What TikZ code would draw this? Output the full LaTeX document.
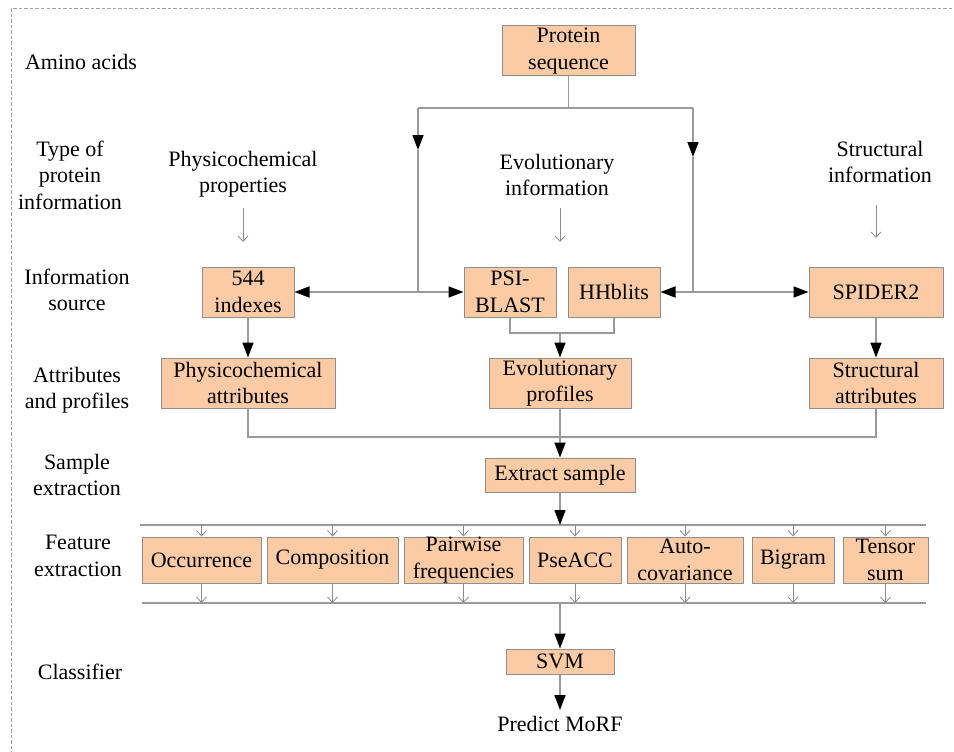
\documentclass[tikz,border=0pt]{standalone}
\usepackage{fontspec}
\setmainfont{Liberation Serif}
\usetikzlibrary{arrows.meta}
\definecolor{peach}{HTML}{FBCBA5}
\definecolor{boxedge}{HTML}{8E8E8E}
\definecolor{wire}{HTML}{9A9A9A}
\definecolor{hint}{HTML}{8C8C8C}
\definecolor{frame}{HTML}{A0A0A0}
\begin{document}
\begin{tikzpicture}[x=1pt,y=-1pt,
  every node/.style={font=\fontsize{22}{26.5}\selectfont, align=center},
  stage/.style={draw=boxedge, line width=1pt, fill=peach, inner sep=0pt},
  label/.style={inner sep=0pt},
  wireline/.style={draw=wire, line width=1.5pt},
  flow/.style={wireline, -{Triangle[length=15pt,width=11pt,black]}},
  hintarrow/.style={draw=hint, line width=0.8pt, -{Straight Barb[length=5.5pt,width=10pt]}}
]
\useasboundingbox (0,0) rectangle (954,752);

% outer dashed frame
\draw[frame, line width=1pt, dash pattern=on 3.5pt off 2pt] (11,760) -- (11,9) -- (960,9);

% row labels
\node[label] (lAmino) at (81,62) {Amino acids};
\node[label] (lType) at (70,175) {Type of\\protein\\information};
\node[label] (lSource) at (77,290) {Information\\source};
\node[label] (lAttr) at (77,390) {Attributes\\and profiles};
\node[label] (lSample) at (77,475) {Sample\\extraction};
\node[label] (lFeat) at (78,556) {Feature\\extraction};
\node[label] (lClass) at (80,672) {Classifier};

% kinds of protein information
\node[label] (tPhys) at (243,174) {Physicochemical\\properties};
\node[label] (tEvo) at (557,175) {Evolutionary\\information};
\node[label] (tStr) at (880,162) {Structural\\information};
\coordinate (aPhysA) at (243,208); \coordinate (aPhysB) at (243,242);
\coordinate (aEvoA) at (560,208); \coordinate (aEvoB) at (560,242);
\coordinate (aStrA) at (876,205); \coordinate (aStrB) at (876,238);
\draw[hintarrow] (aPhysA) -- (aPhysB);
\draw[hintarrow] (aEvoA) -- (aEvoB);
\draw[hintarrow] (aStrA) -- (aStrB);

% stages
\node[stage, minimum width=133pt, minimum height=50pt] (seq) at (568.5,51) {Protein\\sequence};
\node[stage, minimum width=92pt, minimum height=50pt] (idx) at (248,292) {544\\indexes};
\node[stage, minimum width=92pt, minimum height=50pt] (psi) at (510,292) {PSI-\\BLAST};
\node[stage, minimum width=92pt, minimum height=50pt] (hhb) at (614,292) {HHblits};
\node[stage, minimum width=134pt, minimum height=50pt] (spi) at (876,292) {SPIDER2};
\node[stage, minimum width=174pt, minimum height=50pt] (pca) at (248,383) {Physicochemical\\attributes};
\node[stage, minimum width=142pt, minimum height=50pt] (evp) at (560,383) {Evolutionary\\profiles};
\node[stage, minimum width=134pt, minimum height=50pt] (sta) at (876,383) {Structural\\attributes};
\node[stage, minimum width=150pt, minimum height=34pt] (ext) at (560,475) {Extract sample};

% feature extraction
\node[stage, minimum width=119pt, minimum height=46pt] (occ) at (201.5,560) {Occurrence};
\node[stage, minimum width=131pt, minimum height=46pt] (com) at (332.5,560) {Composition};
\node[stage, minimum width=119pt, minimum height=46pt] (pai) at (463.5,560) {Pairwise\\frequencies};
\node[stage, minimum width=92pt, minimum height=46pt] (pse) at (575,560) {PseACC};
\node[stage, minimum width=116pt, minimum height=46pt] (aut) at (685,560) {Auto-\\covariance};
\node[stage, minimum width=82pt, minimum height=46pt] (big) at (793,560) {Bigram};
\node[stage, minimum width=85pt, minimum height=46pt] (ten) at (885.5,560) {Tensor\\sum};

\node[stage, minimum width=108pt, minimum height=25pt] (svm) at (560,661.5) {SVM};
\node[label, inner sep=6pt] (pred) at (560,724) {Predict MoRF};

% sequence fan-out
\coordinate (jL) at (418,108);
\coordinate (jR) at (693,108);
\coordinate (mL) at (418,150);
\coordinate (mR) at (693,157);
\coordinate (bL) at (418,292);
\coordinate (bR) at (693,292);
\draw[wireline] (seq.south) -- (seq.south |- jL);
\draw[wireline] (jL) -- (jR);
\draw[flow] (jL) -- (mL);
\draw[wireline] (mL) -- (bL);
\draw[flow] (jR) -- (mR);
\draw[wireline] (mR) -- (bR);
\draw[flow] (bL) -- (idx.east);
\draw[flow] (bL) -- (psi.west);
\draw[flow] (bR) -- (hhb.east);
\draw[flow] (bR) -- (spi.west);

% sources to attributes
\coordinate (jEvo) at (560,333);
\draw[wireline] (psi.south) |- (hhb.south |- jEvo) -- (hhb.south);
\draw[flow] (jEvo) -- (evp.north);
\draw[flow] (idx.south) -- (pca.north);
\draw[flow] (spi.south) -- (sta.north);

% attributes to sample extraction
\coordinate (jAttr) at (560,437);
\draw[wireline] (pca.south) |- (jAttr) -| (sta.south);
\draw[wireline] (evp.south) -- (jAttr);
\draw[flow] (jAttr) -- (ext.north);

% feature buses
\coordinate (busTop) at (560,525);
\coordinate (busTopL) at (140,525);
\coordinate (busTopR) at (926,525);
\coordinate (busBot) at (560,603);
\coordinate (busBotL) at (142,603);
\coordinate (busBotR) at (926,603);
\draw[wireline] (busTopL) -- (busTopR);
\draw[wireline] (busBotL) -- (busBotR);
\draw[flow] (ext.south) -- (busTop);
\foreach \f in {occ,com,pai,pse,aut,big,ten}{
  \draw[hintarrow] (\f.north |- busTop) -- (\f.north);
  \draw[hintarrow] (\f.south) -- (\f.south |- busBot);
}

% classifier
\draw[flow] (busBot) -- (svm.north);
\draw[flow] (svm.south) -- (pred.north);
\end{tikzpicture}
\end{document}
